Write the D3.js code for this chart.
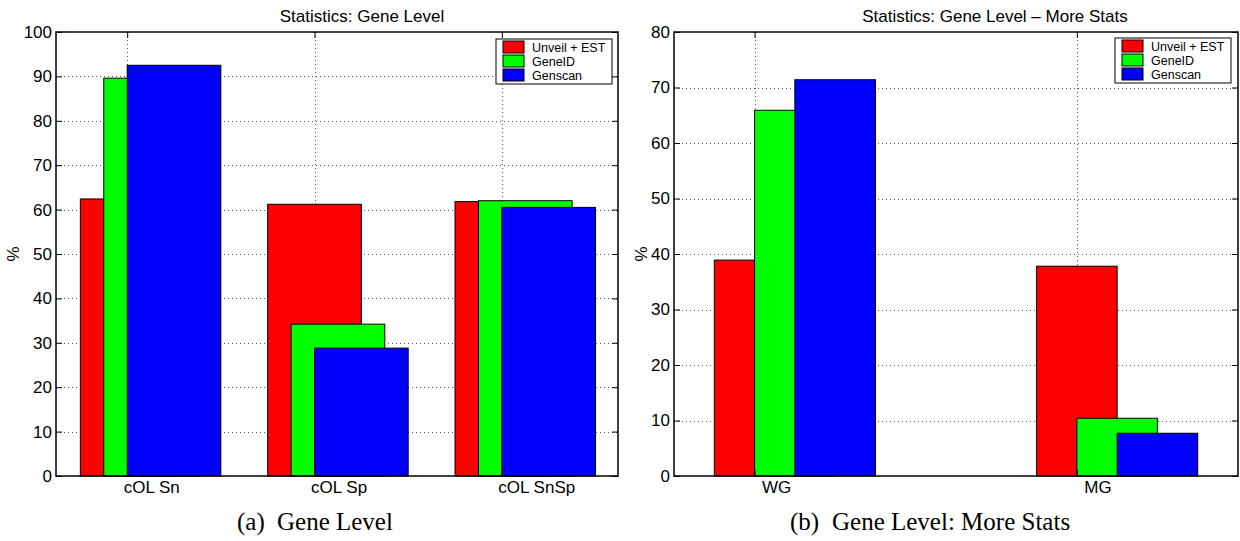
<!DOCTYPE html>
<html>
<head>
<meta charset="utf-8">
<script src="https://cdn.jsdelivr.net/npm/d3@7"></script>
<style>
  body { margin: 0; background: #fff; }
  svg { display: block; font-family: 'Liberation Sans', Arial, sans-serif; }
</style>
</head>
<body>
<svg id="chart" width="1240" height="541"></svg>
<script>
// values (percent)
const seriesNames = ['Unveil + EST', 'GeneID', 'Genscan'];
const seriesColors = ['#ff0000', '#00ff00', '#0000ff'];

const geneCategories = ['cOL Sn', 'cOL Sp', 'cOL SnSp'];
const geneUnveil = [62.4, 61.2, 61.8];
const geneGeneID = [89.6, 34.2, 62.0];
const geneGenscan = [92.5, 28.8, 60.5];
const geneTicks = [0, 10, 20, 30, 40, 50, 60, 70, 80, 90, 100];

const moreCategories = ['WG', 'MG'];
const moreUnveil = [38.9, 37.8];
const moreGeneID = [65.9, 10.4];
const moreGenscan = [71.4, 7.7];
const moreTicks = [0, 10, 20, 30, 40, 50, 60, 70, 80];

const svg = d3.select('#chart');

function drawPanel(p) {
  const g = svg.append('g');
  const idx = p.categories.map((d, i) => i + 1);

  const x = d3.scaleLinear().domain(p.xDomain).range([p.left, p.right]);
  const y = d3.scaleLinear().domain([0, d3.max(p.ticks)]).range([p.bottom, p.top]);

  // dotted grid, under the bars
  const grid = g.append('g')
    .attr('stroke', '#555')
    .attr('stroke-width', 1)
    .attr('stroke-dasharray', '1,3');
  grid.selectAll('.hg')
    .data(p.ticks.slice(1, -1))
    .join('line')
    .attr('x1', p.left).attr('x2', p.right)
    .attr('y1', d => Math.round(y(d)) + 0.5).attr('y2', d => Math.round(y(d)) + 0.5);
  grid.selectAll('.vg')
    .data(idx)
    .join('line')
    .attr('x1', d => Math.round(x(d)) + 0.5).attr('x2', d => Math.round(x(d)) + 0.5)
    .attr('y1', p.top).attr('y2', p.bottom);

  // bars, one series after the other so later ones sit on top
  p.series.forEach((values, s) => {
    const off = p.offsets[s];
    g.append('g').selectAll('rect')
      .data(values.map((v, i) => ({ i: i + 1, v })))
      .join('rect')
      .attr('x', d => x(d.i + off))
      .attr('width', d => x(d.i + off + p.barWidth) - x(d.i + off))
      .attr('y', d => y(d.v))
      .attr('height', d => y(0) - y(d.v))
      .attr('fill', seriesColors[s])
      .attr('stroke', '#000')
      .attr('stroke-width', 1);
  });

  // axes with inward ticks
  const yAxis = g.append('g')
    .attr('transform', `translate(${p.left},0)`)
    .call(d3.axisLeft(y).tickValues(p.ticks).tickSize(-6).tickPadding(4));
  yAxis.select('.domain').remove();
  yAxis.selectAll('text').attr('font-size', 17).attr('fill', '#000')
    .attr('font-family', "'Liberation Sans', Arial, sans-serif");

  const yRight = g.append('g')
    .attr('transform', `translate(${p.right},0)`)
    .call(d3.axisRight(y).tickValues(p.ticks).tickSize(-6).tickFormat(''));
  yRight.select('.domain').remove();

  const xAxis = g.append('g')
    .attr('transform', `translate(0,${p.bottom})`)
    .call(d3.axisBottom(x).tickValues(idx).tickSize(-6).tickPadding(5)
      .tickFormat(d => p.categories[d - 1]));
  xAxis.select('.domain').remove();
  xAxis.selectAll('text')
    .attr('font-size', 17).attr('fill', '#000')
    .attr('font-family', "'Liberation Sans', Arial, sans-serif")
    .attr('text-anchor', 'start')
    .attr('dx', p.labelDx);

  const xTop = g.append('g')
    .attr('transform', `translate(0,${p.top})`)
    .call(d3.axisTop(x).tickValues(idx).tickSize(-6).tickFormat(''));
  xTop.select('.domain').remove();

  g.append('rect')
    .attr('x', p.left).attr('y', p.top)
    .attr('width', p.right - p.left).attr('height', p.bottom - p.top)
    .attr('fill', 'none').attr('stroke', '#000').attr('stroke-width', 1.5);

  // title and y label
  g.append('text')
    .attr('x', p.titleX).attr('y', 22)
    .attr('text-anchor', 'middle')
    .attr('font-size', 17)
    .text(p.title);

  g.append('text')
    .attr('transform', `translate(${p.yLabelX},${(p.top + p.bottom) / 2}) rotate(-90)`)
    .attr('text-anchor', 'middle')
    .attr('dy', '0.35em')
    .attr('font-size', 17)
    .text('%');

  // legend
  const lg = g.append('g').attr('transform', `translate(${p.legendX},${p.legendY})`);
  lg.append('rect')
    .attr('width', 116).attr('height', 45)
    .attr('fill', '#fff').attr('stroke', '#000').attr('stroke-width', 1);
  seriesNames.forEach((name, s) => {
    const row = lg.append('g').attr('transform', `translate(0,${8 + s * 14})`);
    row.append('rect')
      .attr('x', 7).attr('y', -6).attr('width', 21).attr('height', 12)
      .attr('fill', seriesColors[s]).attr('stroke', '#000').attr('stroke-width', 1);
    row.append('text')
      .attr('x', 36).attr('dy', '0.36em')
      .attr('font-size', 12.5)
      .text(name);
  });

  // subfigure caption
  const cap = g.append('g')
    .attr('font-family', "'Liberation Serif', 'Times New Roman', serif")
    .attr('font-size', 25);
  cap.append('text').attr('x', p.captionX).attr('y', 530).text(p.captionTag);
  cap.append('text').attr('x', p.captionTextX).attr('y', 530).text(p.captionText);
}

drawPanel({
  categories: geneCategories,
  series: [geneUnveil, geneGeneID, geneGenscan],
  ticks: geneTicks,
  left: 56, right: 618, top: 32, bottom: 476,
  xDomain: [0.62, 3.62],
  barWidth: 0.5,
  offsets: [-0.25, -0.125, 0],
  labelDx: -4,
  title: 'Statistics: Gene Level',
  titleX: 362,
  yLabelX: 13,
  legendX: 496, legendY: 39,
  captionTag: '(a)', captionText: 'Gene Level',
  captionX: 237, captionTextX: 277
});

drawPanel({
  categories: moreCategories,
  series: [moreUnveil, moreGeneID, moreGenscan],
  ticks: moreTicks,
  left: 674, right: 1238, top: 32, bottom: 476,
  xDomain: [0.75, 2.5],
  barWidth: 0.25,
  offsets: [-0.125, 0, 0.125],
  labelDx: 7,
  title: 'Statistics: Gene Level \u2013 More Stats',
  titleX: 995,
  yLabelX: 641,
  legendX: 1115, legendY: 38,
  captionTag: '(b)', captionText: 'Gene Level: More Stats',
  captionX: 790, captionTextX: 832
});
</script>
</body>
</html>
